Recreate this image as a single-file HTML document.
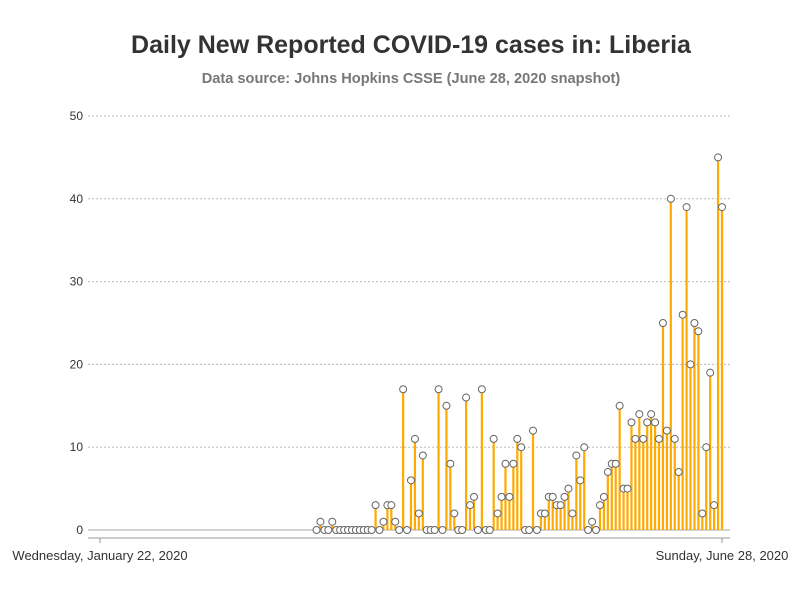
<!DOCTYPE html>
<html><head><meta charset="utf-8"><style>
body{margin:0;background:#fff;font-family:"Liberation Sans",sans-serif}
</style></head><body>
<svg width="800" height="600" xmlns="http://www.w3.org/2000/svg" font-family="Liberation Sans, sans-serif">
<text x="411" y="53" text-anchor="middle" font-size="25" font-weight="bold" fill="#333">Daily New Reported COVID-19 cases in: Liberia</text>
<text x="411" y="83" text-anchor="middle" font-size="14.6" font-weight="bold" fill="#777">Data source: Johns Hopkins CSSE (June 28, 2020 snapshot)</text>
<g id="grid"></g>
<g id="marks"></g>
<line x1="88" x2="730" y1="538" y2="538" stroke="#999"/>
<line x1="100" x2="100" y1="538" y2="543" stroke="#999"/>
<line x1="722" x2="722" y1="538" y2="543" stroke="#999"/>
<text x="100" y="560" text-anchor="middle" font-size="13" fill="#333">Wednesday, January 22, 2020</text>
<text x="722" y="560" text-anchor="middle" font-size="13" fill="#333">Sunday, June 28, 2020</text>
</svg>
<script>
const totalDays = 159;
const firstIndex = 55;
const values = [0,1,0,0,1,0,0,0,0,0,0,0,0,0,0,3,0,1,3,3,1,0,17,0,6,11,2,9,0,0,0,17,0,15,8,2,0,0,16,3,4,0,17,0,0,11,2,4,8,4,8,11,10,0,0,12,0,2,2,4,4,3,3,4,5,2,9,6,10,0,1,0,3,4,7,8,8,15,5,5,13,11,14,11,13,14,13,11,25,12,40,11,7,26,39,20,25,24,2,10,19,3,45,39];
const yTicks = [0,10,20,30,40,50];
const NS="http://www.w3.org/2000/svg";
function xs(i){return 100+i*(622/(totalDays-1));}
function ys(v){return 530-v*(414/50);}
const grid=document.getElementById('grid');
yTicks.forEach(t=>{
  const l=document.createElementNS(NS,'line');
  l.setAttribute('x1',88);l.setAttribute('x2',730);
  l.setAttribute('y1',ys(t));l.setAttribute('y2',ys(t));
  l.setAttribute('stroke',t===0?'#aaa':'#bbb');
  if(t!==0)l.setAttribute('stroke-dasharray','2,2');
  
  
  grid.appendChild(l);
  const tx=document.createElementNS(NS,'text');
  tx.setAttribute('x',83);tx.setAttribute('y',ys(t)+4);
  tx.setAttribute('text-anchor','end');tx.setAttribute('font-size','12');tx.setAttribute('fill','#333');
  tx.textContent=t;
  
  
  grid.appendChild(tx);
});
const marks=document.getElementById('marks');
values.forEach((v,k)=>{
  const x=xs(firstIndex+k);
  if(v>0){
    const b=document.createElementNS(NS,'line');
    b.setAttribute('x1',x);b.setAttribute('x2',x);
    b.setAttribute('y1',ys(0));b.setAttribute('y2',ys(v));
    b.setAttribute('stroke','#FFAA00');b.setAttribute('stroke-width','2.2');
    
    
    marks.appendChild(b);
  }
});
values.forEach((v,k)=>{
  const x=xs(firstIndex+k);
  const c=document.createElementNS(NS,'circle');
  c.setAttribute('cx',x);c.setAttribute('cy',ys(v));c.setAttribute('r',3.5);
  c.setAttribute('fill','#fff');c.setAttribute('stroke','#666');c.setAttribute('stroke-width','1');
  
  
  marks.appendChild(c);
});
</script>
</body></html>
